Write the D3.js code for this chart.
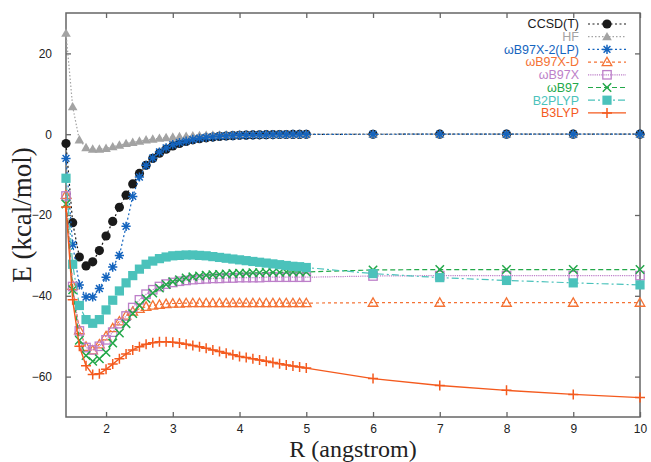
<!DOCTYPE html>
<html>
<head>
<meta charset="utf-8">
<script src="https://cdn.jsdelivr.net/npm/d3@7"></script>
<style>
  body { margin: 0; background: #fff; }
  svg { display: block; }
</style>
</head>
<body>
<svg id="chart" width="651" height="462"></svg>
<script>
// bond distance R (angstrom)
var R = [1.4, 1.5, 1.6, 1.7, 1.8, 1.9, 2.0, 2.1, 2.2, 2.3, 2.4, 2.5, 2.6, 2.7, 2.8, 2.9,
         3.0, 3.1, 3.2, 3.3, 3.4, 3.5, 3.6, 3.7, 3.8, 3.9, 4.0, 4.1, 4.2, 4.3, 4.4, 4.5,
         4.6, 4.7, 4.8, 4.9, 5.0, 6, 7, 8, 9, 10];

var ccsdt = [-2.3, -21.9, -30.4, -32.6, -31.6, -28.8, -25.2, -21.6, -18.1, -15.1, -12.3, -9.7, -7.7, -6.0, -4.7, -3.7,
             -2.9, -2.3, -1.8, -1.4, -1.1, -0.9, -0.7, -0.55, -0.45, -0.36, -0.29, -0.23, -0.19, -0.15, -0.12, -0.10,
             -0.08, -0.07, -0.06, -0.05, -0.04, -0.01, 0, 0, 0, 0];
var hf = [25.0, 6.8, -1.4, -3.3, -3.7, -3.7, -3.5, -3.1, -2.7, -2.3, -2.0, -1.7, -1.4, -1.2, -1.0, -0.85,
          -0.7, -0.6, -0.5, -0.4, -0.33, -0.27, -0.22, -0.18, -0.15, -0.12, -0.1, -0.08, -0.07, -0.06, -0.05, -0.04,
          -0.03, -0.03, -0.02, -0.02, -0.01, 0, 0, 0, 0, 0];
var wb97x2lp = [-6.0, -27.3, -37.3, -40.3, -40.3, -38.2, -35.4, -32.9, -30.0, -22.8, -15.4, -10.6, -7.7, -5.9, -4.4, -3.4,
                -2.6, -2.1, -1.7, -1.3, -1.0, -0.8, -0.65, -0.5, -0.4, -0.33, -0.27, -0.22, -0.18, -0.14, -0.12, -0.1,
                -0.08, -0.07, -0.06, -0.05, -0.04, -0.01, 0, 0, 0, 0];
var wb97xd = [-15.0, -37.5, -48.5, -52.6, -53.5, -52.0, -50.0, -48.0, -46.3, -44.9, -43.9, -43.2, -42.7, -42.4, -42.2, -42.0,
              -41.9, -41.9, -41.8, -41.8, -41.8, -41.8, -41.8, -41.8, -41.8, -41.8, -41.8, -41.8, -41.8, -41.8, -41.8, -41.8,
              -41.8, -41.8, -41.8, -41.8, -41.8, -41.7, -41.7, -41.7, -41.7, -41.7];
var wb97x = [-15.3, -37.7, -48.7, -52.8, -53.4, -52.5, -50.9, -49.0, -46.9, -45.0, -42.9, -41.0, -39.6, -38.5, -37.7, -37.1,
             -36.7, -36.4, -36.2, -36.0, -35.9, -35.8, -35.7, -35.7, -35.6, -35.6, -35.5, -35.5, -35.5, -35.5, -35.4, -35.4,
             -35.4, -35.4, -35.4, -35.4, -35.4, -35.1, -35.0, -35.0, -35.0, -35.0];
var wb97 = [-17.3, -38.5, -51.0, -54.8, -56.2, -55.6, -54.0, -51.7, -49.2, -46.9, -44.4, -42.4, -40.7, -39.3, -38.1, -37.2,
            -36.5, -36.0, -35.6, -35.3, -35.1, -34.9, -34.8, -34.7, -34.6, -34.5, -34.4, -34.4, -34.3, -34.3, -34.2, -34.2,
            -34.2, -34.1, -34.1, -34.1, -34.1, -33.6, -33.5, -33.5, -33.5, -33.5];
var b2plyp = [-10.9, -32.2, -42.4, -45.9, -46.8, -45.9, -43.5, -41.1, -38.8, -36.8, -35.0, -33.4, -32.2, -31.4, -30.8, -30.4,
              -30.1, -30.0, -29.9, -29.9, -30.0, -30.1, -30.3, -30.5, -30.7, -30.9, -31.1, -31.3, -31.5, -31.7, -31.9, -32.1,
              -32.3, -32.5, -32.7, -32.8, -33.0, -34.5, -35.5, -36.2, -36.8, -37.3];
var b3lyp = [-18.0, -41.0, -52.5, -57.3, -59.5, -59.3, -58.2, -56.9, -55.6, -54.4, -53.4, -52.6, -52.0, -51.6, -51.4, -51.4,
             -51.5, -51.7, -52.0, -52.3, -52.6, -53.0, -53.4, -53.8, -54.2, -54.6, -55.0, -55.3, -55.6, -55.9, -56.2, -56.5,
             -56.8, -57.1, -57.4, -57.6, -57.9, -60.5, -62.2, -63.4, -64.4, -65.2];

var xTicks = [2, 3, 4, 5, 6, 7, 8, 9, 10];
var yTicks = [-60, -40, -20, 0, 20];

var series = [
  {name: "CCSD(T)",      y: ccsdt,    color: "#1a1a1a", dash: "2,2.5", mark: "circle"},
  {name: "HF",           y: hf,       color: "#a3a3a3", dash: "1.5,2", mark: "tri"},
  {name: "\u03c9B97X-2(LP)", y: wb97x2lp, color: "#1464be", dash: "2,2.5", mark: "star"},
  {name: "\u03c9B97X-D", y: wb97xd,   color: "#f47234", dash: "3,3",   mark: "otri"},
  {name: "\u03c9B97X",   y: wb97x,    color: "#bd7fc9", dash: "1.2,1", mark: "osq"},
  {name: "\u03c9B97",    y: wb97,     color: "#23a84a", dash: "5,3",   mark: "x"},
  {name: "B2PLYP",       y: b2plyp,   color: "#4bc2bb", dash: "7,3,2,3", mark: "sq"},
  {name: "B3LYP",        y: b3lyp,    color: "#f45a1e", dash: null,    mark: "plus"}
];

var W = 651, H = 462;
var m = {top: 13, right: 11, bottom: 45, left: 66};
var svg = d3.select("#chart");

var x = d3.scaleLinear().domain([1.4, 10]).range([m.left, W - m.right]);
var y = d3.scaleLinear().domain([-70, 30]).range([H - m.bottom, m.top]);

var frameColor = "#666";

// axes: ticks inward on all sides
var axB = svg.append("g").attr("transform", "translate(0," + (H - m.bottom) + ")")
  .call(d3.axisBottom(x).tickValues(xTicks).tickSize(-5).tickPadding(7.5).tickFormat(d3.format("d")));
var axT = svg.append("g").attr("transform", "translate(0," + m.top + ")")
  .call(d3.axisTop(x).tickValues(xTicks).tickSize(-5).tickFormat(""));
var axL = svg.append("g").attr("transform", "translate(" + m.left + ",0)")
  .call(d3.axisLeft(y).tickValues(yTicks).tickSize(-5).tickPadding(14).tickFormat(d3.format("d")));
var axR = svg.append("g").attr("transform", "translate(" + (W - m.right) + ",0)")
  .call(d3.axisRight(y).tickValues(yTicks).tickSize(-5).tickFormat(""));

[axB, axT, axL, axR].forEach(function(a){
  a.select(".domain").remove();
  a.selectAll(".tick line").attr("stroke", frameColor).attr("stroke-width", 1.3);
  a.selectAll("text").attr("font-family", "Liberation Sans, Arial, sans-serif")
    .attr("font-size", 12).attr("fill", "#222");
});

svg.append("rect")
  .attr("x", m.left).attr("y", m.top)
  .attr("width", W - m.left - m.right).attr("height", H - m.top - m.bottom)
  .attr("fill", "none").attr("stroke", frameColor).attr("stroke-width", 1.5);

// axis titles
svg.append("text")
  .attr("x", (m.left + W - m.right) / 2).attr("y", 456.6)
  .attr("text-anchor", "middle")
  .attr("font-family", "Liberation Serif, Times New Roman, serif")
  .attr("font-size", 24).attr("fill", "#222")
  .text("R (angstrom)");
svg.append("text")
  .attr("transform", "translate(31,215) rotate(-90)")
  .attr("text-anchor", "middle")
  .attr("font-family", "Liberation Serif, Times New Roman, serif")
  .attr("font-size", 27).attr("fill", "#222")
  .text("E (kcal/mol)");

function drawMark(g, type, cx, cy, color){
  var p;
  if(type == "circle"){
    g.append("circle").attr("cx", cx).attr("cy", cy).attr("r", 4.6).attr("fill", color);
  } else if(type == "tri" || type == "otri"){
    var s = 4.8;
    p = "M" + cx + "," + (cy - s) + "L" + (cx + s) + "," + (cy + s * 0.75) + "L" + (cx - s) + "," + (cy + s * 0.75) + "Z";
    if(type == "tri") g.append("path").attr("d", p).attr("fill", color);
    else g.append("path").attr("d", p).attr("fill", "none").attr("stroke", color).attr("stroke-width", 1.3);
  } else if(type == "sq" || type == "osq"){
    var h = type == "sq" ? 4.6 : 4.2;
    var r = g.append("rect").attr("x", cx - h).attr("y", cy - h).attr("width", 2 * h).attr("height", 2 * h);
    if(type == "sq") r.attr("fill", color);
    else r.attr("fill", "none").attr("stroke", color).attr("stroke-width", 1.3);
  } else if(type == "x"){
    var a = 4.2;
    p = "M" + (cx - a) + "," + (cy - a) + "L" + (cx + a) + "," + (cy + a) +
        "M" + (cx - a) + "," + (cy + a) + "L" + (cx + a) + "," + (cy - a);
    g.append("path").attr("d", p).attr("stroke", color).attr("stroke-width", 1.5);
  } else if(type == "plus"){
    var b = 5;
    p = "M" + (cx - b) + "," + cy + "L" + (cx + b) + "," + cy + "M" + cx + "," + (cy - b) + "L" + cx + "," + (cy + b);
    g.append("path").attr("d", p).attr("stroke", color).attr("stroke-width", 1.5);
  } else if(type == "star"){
    var c = 4.6, d = 3.4;
    p = "M" + (cx - c) + "," + cy + "L" + (cx + c) + "," + cy + "M" + cx + "," + (cy - c) + "L" + cx + "," + (cy + c) +
        "M" + (cx - d) + "," + (cy - d) + "L" + (cx + d) + "," + (cy + d) +
        "M" + (cx - d) + "," + (cy + d) + "L" + (cx + d) + "," + (cy - d);
    g.append("path").attr("d", p).attr("stroke", color).attr("stroke-width", 1.5);
  }
}

var plot = svg.append("g");
var line = d3.line().x(function(d){ return x(d[0]); }).y(function(d){ return y(d[1]); });

series.forEach(function(s){
  var pts = R.map(function(r, i){ return [r, s.y[i]]; });
  var g = plot.append("g");
  g.append("path").attr("d", line(pts))
    .attr("fill", "none").attr("stroke", s.color)
    .attr("stroke-width", s.dash ? 1.2 : 1.4)
    .attr("stroke-dasharray", s.dash);
  pts.forEach(function(p){ drawMark(g, s.mark, x(p[0]), y(p[1]), s.color); });
});

// legend
var lg = svg.append("g");
series.forEach(function(s, i){
  var cy = 24 + i * 12.7;
  lg.append("text").attr("x", 579).attr("y", cy + 4.3)
    .attr("text-anchor", "end")
    .attr("font-family", "Liberation Sans, Arial, sans-serif")
    .attr("font-size", 12.5).attr("fill", s.color)
    .text(s.name);
  lg.append("line").attr("x1", 588).attr("x2", 626).attr("y1", cy).attr("y2", cy)
    .attr("stroke", s.color).attr("stroke-width", s.dash ? 1.2 : 1.4)
    .attr("stroke-dasharray", s.dash);
  drawMark(lg, s.mark, 607, cy, s.color);
});
</script>
</body>
</html>
